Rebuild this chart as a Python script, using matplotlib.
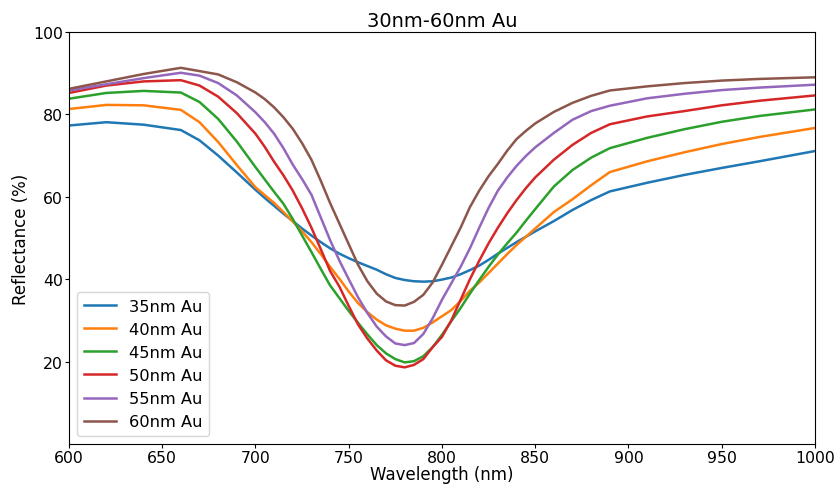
import matplotlib
matplotlib.use("Agg")
from matplotlib import pyplot as plt

# wavelength grid (nm)
wl = [600, 620, 640, 660, 670, 680, 690, 700, 705, 710, 715, 720, 725, 730, 735, 740, 745,
      750, 755, 760, 765, 770, 775, 780, 785, 790, 795, 800, 805, 810, 815, 820, 825, 830,
      835, 840, 845, 850, 860, 870, 880, 890, 910, 930, 950, 970, 1000]

# reflectance (%) for each Au thickness
r35 = [77.3, 78.1, 77.5, 76.2, 73.7, 70.0, 65.9, 61.7, 59.7, 57.8, 55.9, 54.1, 52.3, 50.6, 49.0, 47.5, 46.2,
       45.1, 44.1, 43.2, 42.3, 41.2, 40.3, 39.8, 39.5, 39.4, 39.5, 39.9, 40.4, 41.2, 42.2, 43.3, 44.7, 46.2,
       47.6, 49.0, 50.3, 51.6, 54.1, 56.8, 59.2, 61.3, 63.4, 65.3, 67.0, 68.6, 71.1]
r40 = [81.3, 82.3, 82.2, 81.1, 78.1, 73.3, 67.7, 62.3, 60.4, 58.5, 56.3, 54.0, 51.6, 49.0, 46.1, 43.0, 40.1,
       37.0, 34.2, 32.0, 30.2, 28.8, 28.0, 27.5, 27.5, 28.2, 29.5, 31.0, 32.5, 34.7, 37.2, 39.2, 41.5, 43.8,
       46.1, 48.3, 50.3, 52.3, 56.3, 59.4, 62.8, 66.0, 68.6, 70.8, 72.8, 74.5, 76.7]
r45 = [83.8, 85.2, 85.7, 85.3, 83.0, 78.9, 73.4, 67.2, 64.2, 61.2, 58.3, 54.6, 50.6, 46.6, 42.5, 38.5, 35.4,
       32.3, 29.4, 26.6, 24.0, 22.0, 20.6, 19.8, 20.1, 21.3, 23.5, 26.5, 29.8, 33.0, 36.5, 39.8, 43.0, 46.0,
       48.7, 51.3, 54.2, 57.0, 62.5, 66.5, 69.5, 71.8, 74.3, 76.4, 78.2, 79.6, 81.2]
r50 = [85.2, 87.0, 88.0, 88.3, 87.0, 84.3, 80.3, 75.3, 72.1, 68.5, 65.2, 61.5, 57.2, 52.5, 47.3, 42.0, 38.2,
       33.5, 29.0, 25.6, 22.7, 20.3, 19.0, 18.6, 19.2, 20.6, 23.5, 26.0, 30.0, 35.0, 40.0, 44.5, 48.7, 52.5,
       56.0, 59.2, 62.1, 64.7, 69.0, 72.6, 75.5, 77.6, 79.5, 80.8, 82.2, 83.3, 84.6]
r55 = [85.8, 87.3, 88.8, 90.1, 89.4, 87.6, 84.6, 80.5, 78.1, 75.3, 71.8, 67.8, 64.3, 60.5, 55.0, 49.5, 44.5,
       40.0, 35.6, 31.8, 28.5, 26.1, 24.4, 24.0, 24.5, 26.7, 30.5, 35.0, 39.0, 43.0, 47.5, 52.5, 57.3, 61.5,
       64.7, 67.5, 69.9, 72.0, 75.5, 78.7, 80.8, 82.1, 83.9, 85.0, 85.9, 86.5, 87.2]
r60 = [86.2, 88.0, 89.8, 91.3, 90.5, 89.7, 87.8, 85.3, 83.7, 81.7, 79.3, 76.5, 73.0, 69.0, 63.9, 58.5, 53.5,
       48.5, 43.5, 39.5, 36.5, 34.6, 33.7, 33.6, 34.5, 36.2, 39.2, 43.5, 48.0, 52.5, 57.5, 61.5, 65.0, 68.0,
       71.2, 74.0, 76.0, 77.8, 80.6, 82.8, 84.5, 85.8, 86.8, 87.6, 88.2, 88.6, 89.0]

series = [r35, r40, r45, r50, r55, r60]
labels = ["35nm Au", "40nm Au", "45nm Au", "50nm Au", "55nm Au", "60nm Au"]

fig = plt.figure(figsize=(8.35, 4.85), dpi=100)
ax = fig.add_axes([0.0826, 0.0825, 0.8934, 0.8495])

for ys, lab in zip(series, labels):
    ax.plot(wl, ys, linewidth=1.8, label=lab)

ax.set_xlim(600, 1000)
ax.set_ylim(0, 100)
ax.set_yticks([20, 40, 60, 80, 100])
ax.set_title("30nm-60nm Au", fontsize=14, pad=4)
ax.set_xlabel("Wavelength (nm)", fontsize=12, labelpad=0)
ax.set_ylabel("Reflectance (%)", fontsize=12, labelpad=2)
# tick labels sit close to the axes
ax.tick_params(axis='both', labelsize=11.3, length=3, pad=1.5)
ax.legend(loc="lower left", fontsize=11.7)

fig.savefig("out.png", dpi=100)
